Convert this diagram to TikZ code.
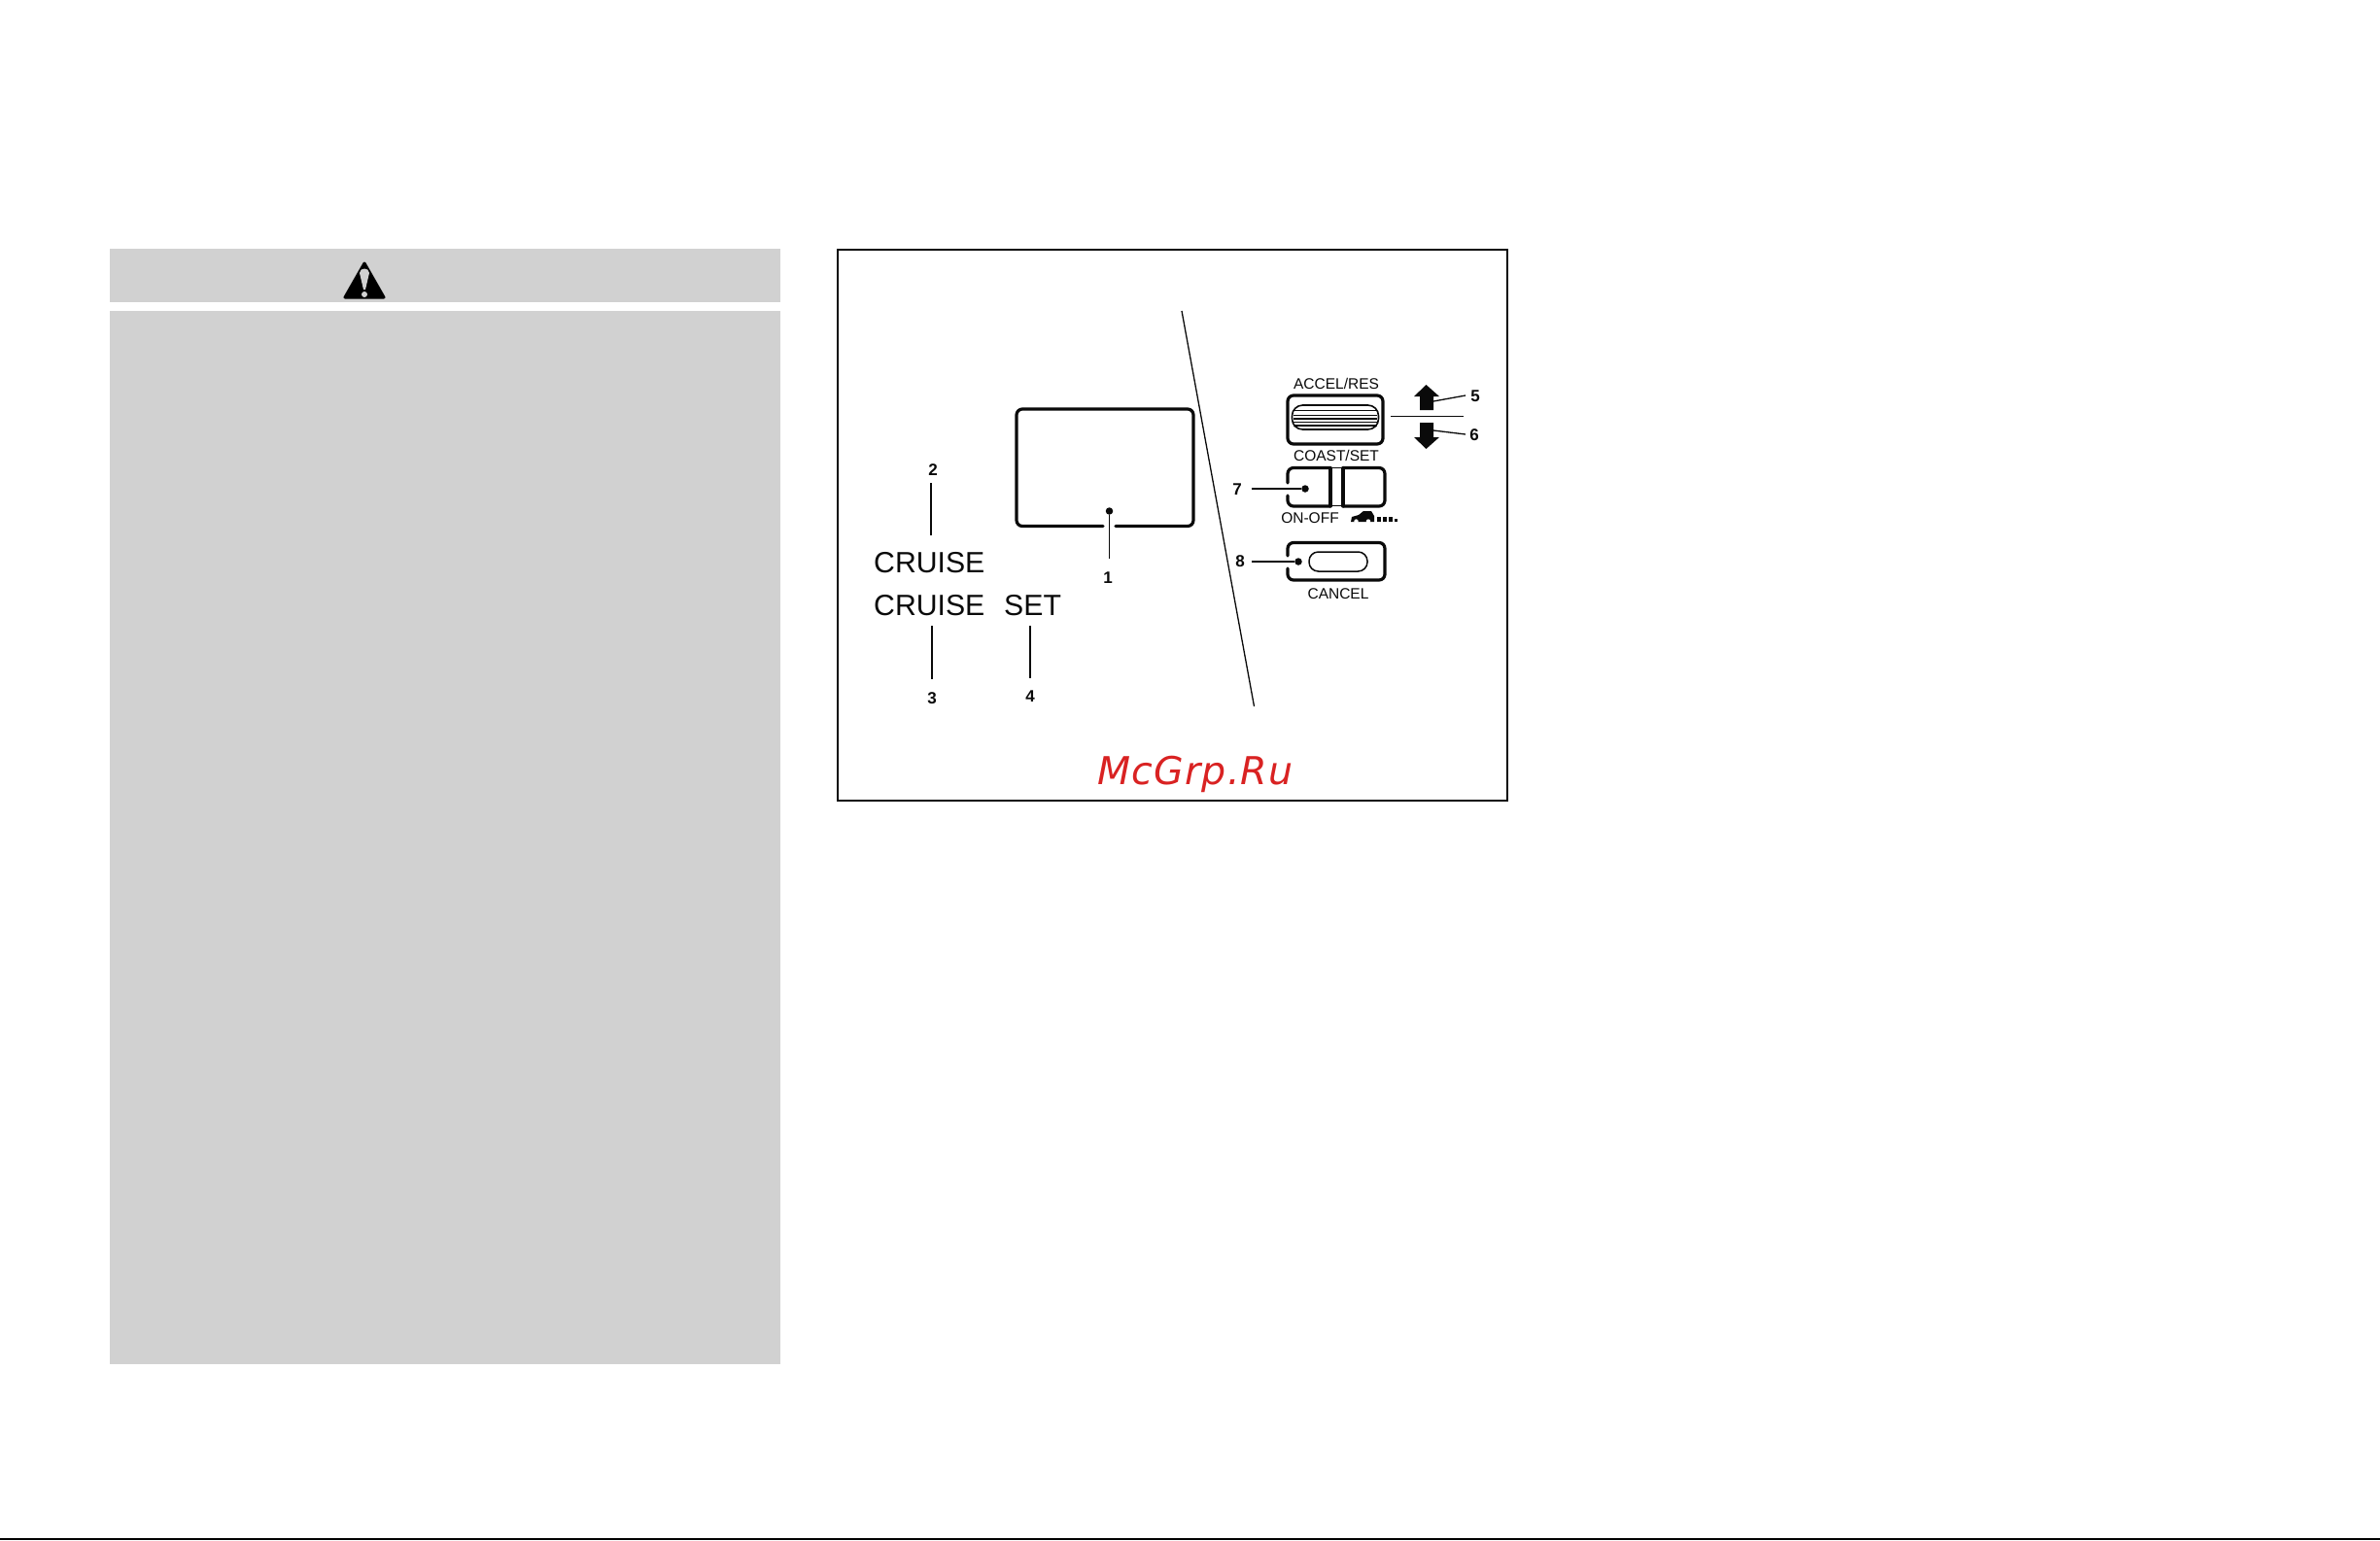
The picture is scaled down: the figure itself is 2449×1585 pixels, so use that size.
\documentclass[tikz,border=0pt]{standalone}
\usepackage{fontspec}
\setmainfont{Liberation Sans}
\newfontfamily\wmfont[LetterSpace=3]{DejaVu Sans}
\definecolor{panelgray}{HTML}{D1D1D1}
\definecolor{wmred}{HTML}{D92222}
\definecolor{inkk}{HTML}{0A0A0A}
\tikzset{
  x=1pt,y=-1pt,
  thinlead/.style={draw=inkk,line width=1.3},
  thick edge/.style={draw=inkk,line width=3.2,line cap=round,rounded corners=6},
  dotmark/.style={circle,fill=inkk,inner sep=0,minimum size=7.5},
  numlabel/.style={inner sep=0,anchor=base,font=\fontsize{17}{17}\selectfont\bfseries,text=inkk},
  caplabel/.style={inner sep=0,anchor=base,font=\fontsize{15.5}{16}\selectfont,text=inkk},
  biglabel/.style={inner sep=0,anchor=base west,font=\fontsize{30.2}{31}\selectfont,text=inkk},
}
\begin{document}
\begin{tikzpicture}
\useasboundingbox (0,0) rectangle (2449,1585);
\fill[white] (0,0) rectangle (2449,1585);
% warning panel
\fill[panelgray] (113,256) rectangle (803,311);
\fill[panelgray] (113,320) rectangle (803,1404);
\draw[fill=black,draw=black,line width=3,line join=round] (375,271) -- (355,306) -- (395,306) -- cycle;
\fill[panelgray] (370,281) .. controls (370,275) and (380,275) .. (380,281) -- (376,298) -- (374,298) -- cycle;
\fill[panelgray] (375,303) circle (3);
% figure frame
\draw[inkk,line width=2] (861.5,257) rectangle (1551,823.5);
% diagonal
\coordinate (dtop) at (1216,320);
\coordinate (dbot) at (1290.5,727);
\draw[thinlead] (dtop) -- (dbot);
% display
\draw[thick edge] (1135,541.5) -- (1046,541.5) -- (1046,421) -- (1228,421) -- (1228,541.5) -- (1148,541.5);
\node[dotmark] (d1) at (1141.5,526) {};
\node[numlabel] (n1) at (1140,600) {1};
\coordinate (e1) at (1141.5,575);
\draw[thinlead] (d1) -- (e1);
% labels left
\node[numlabel] (n2) at (960,489.5) {2};
\node[biglabel] (cr1) at (899,589) {CRUISE};
\node[biglabel] (cr2) at (899,633) {CRUISE};
\node[biglabel] (st) at (1033,633) {SET};
\node[numlabel] (n3) at (959,724.5) {3};
\node[numlabel] (n4) at (1060,722) {4};
\coordinate (a2) at (958,497); \coordinate (b2) at (958,551);
\coordinate (a3) at (959,644); \coordinate (b3) at (959,699);
\coordinate (a4) at (1060,644); \coordinate (b4) at (1060,698);
\draw[thinlead] (a2) -- (b2);
\draw[thinlead] (a3) -- (b3);
\draw[thinlead] (a4) -- (b4);
% accel/coast button
\node[caplabel] (accel) at (1375,400.5) {ACCEL/RES};
\node[caplabel] (coast) at (1375,474) {COAST/SET};
\draw[thick edge] (1325,407) rectangle (1423,457);
\draw[inkk,line width=1.6,rounded corners=11] (1329.5,417) rectangle (1418.5,442);
\foreach \yy/\ww in {422.5/1.2,427.5/1.4,431/1.2,434.5/1.2,438/1.4}
  \draw[inkk,line width=\ww] (1331,\yy) -- (1417,\yy);
\coordinate (spl) at (1431,428.5); \coordinate (spr) at (1506,428.5);
\draw[inkk,line width=1.8] (spl) -- (spr);
% arrows
\fill[inkk] (1467.5,396) -- (1481,408) -- (1475,408) -- (1475,422) -- (1461,422) -- (1461,408) -- (1455,408) -- cycle;
\fill[inkk] (1467.5,462) -- (1481,450) -- (1475,450) -- (1475,435) -- (1461,435) -- (1461,450) -- (1455,450) -- cycle;
\coordinate (a5) at (1475,413); \coordinate (b5) at (1508,407);
\coordinate (a6) at (1475,443); \coordinate (b6) at (1508,447);
\draw[thinlead] (a5) -- (b5);
\draw[thinlead] (a6) -- (b6);
\node[numlabel] (n5) at (1518,413) {5};
\node[numlabel] (n6) at (1517,453.5) {6};
% on-off button
\draw[thick edge] (1369,481.5) -- (1325,481.5) -- (1325,497);
\draw[thick edge] (1369,521) -- (1325,521) -- (1325,510);
\draw[thick edge] (1369,481.5) -- (1369,521);
\draw[thick edge] (1382,481.5) -- (1425,481.5) -- (1425,521) -- (1382,521);
\draw[thick edge] (1382,481.5) -- (1382,521);
\draw[inkk,line width=1.6] (1369,481.5) -- (1382,481.5);
\draw[inkk,line width=1.6] (1369,520.5) -- (1382,520.5);
\node[dotmark] (d7) at (1343,503) {};
\coordinate (e7) at (1288,503);
\draw[thinlead] (e7) -- (d7);
\node[numlabel] (n7) at (1273,509) {7};
\node[caplabel] (onoff) at (1348,538.5) {ON-OFF};
% car icon
\fill[inkk] (1390,537) -- (1391,532) -- (1398,530) -- (1403,526) -- (1411,526) -- (1414,531) -- (1414,537) -- cycle;
\fill[white] (1395.5,536.5) circle (2.2);
\fill[white] (1408,536.5) circle (2.2);
\fill[inkk] (1417,532) rectangle (1421,537);
\fill[inkk] (1423,532) rectangle (1427,537);
\fill[inkk] (1429,532) rectangle (1432.5,537);
\fill[inkk] (1435,534) rectangle (1438,537);
% cancel button
\draw[thick edge] (1325,572) -- (1325,558.5) -- (1425,558.5) -- (1425,597) -- (1325,597) -- (1325,585);
\draw[inkk,line width=1.5,rounded corners=9.5] (1347,568) rectangle (1407,588);
\node[dotmark] (d8) at (1336,578) {};
\coordinate (e8) at (1288,578);
\draw[thinlead] (e8) -- (d8);
\node[numlabel] (n8) at (1276,583.5) {8};
\node[caplabel] (cancel) at (1377,616.5) {CANCEL};
% watermark
\node[inner sep=0,anchor=base,font=\wmfont\itshape\fontsize{39.5}{40}\selectfont,text=wmred] (wm) at (1230,807) {McGrp.Ru};
% bottom rule
\fill[black] (0,1583.3) rectangle (2449,1585);
\end{tikzpicture}
\end{document}
